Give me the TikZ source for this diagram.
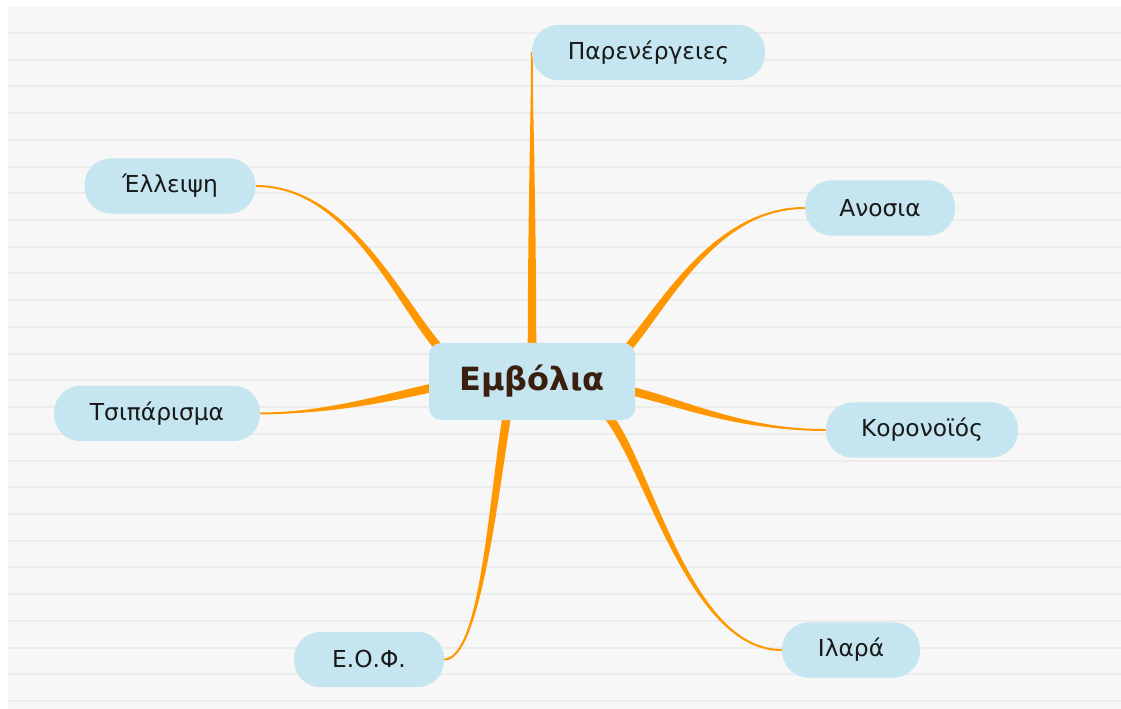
\documentclass[tikz,border=0pt]{standalone}
\usepackage{fontspec}
\setmainfont{DejaVu Sans}
\usetikzlibrary{calc}
\definecolor{paper}{RGB}{247,247,247}
\definecolor{rulecol}{RGB}{236,236,236}
\definecolor{nodefill}{RGB}{197,229,240}
\definecolor{branch}{RGB}{255,152,0}
\definecolor{centertext}{RGB}{58,30,14}
\definecolor{leaftext}{RGB}{25,25,25}
\pgfdeclarelayer{paperlayer}
\pgfdeclarelayer{linklayer}
\pgfsetlayers{paperlayer,linklayer,main}
\tikzset{
  leaf/.style={fill=nodefill, rounded corners=20pt, minimum height=41.5pt, inner sep=0pt,
    text=leaftext, font=\fontsize{17.5pt}{20pt}\selectfont},
  hub/.style={fill=nodefill, rounded corners=9pt, minimum width=154.5pt, minimum height=57.75pt,
    inner sep=0pt, text=centertext, font=\fontsize{24pt}{28pt}\selectfont\bfseries},
  branchfill/.style={fill=branch},
  branchline/.style={draw=branch, line width=1.5pt},
  paperline/.style={draw=rulecol, line width=1.5pt},
}
\def\wS{3.2pt}
\def\wC{3.2pt}
\def\wD{1.4pt}
\newcommand\taper[4]{%
  \fill[branchfill] ($(#1)!\wS!90:(#2)$) .. controls ($(#2)!\wC!-90:(#1)$) and ($(#3)!\wD!90:(#4)$) .. (#4)
    .. controls ($(#3)!\wD!-90:(#4)$) and ($(#2)!\wC!90:(#1)$) .. ($(#1)!\wS!-90:(#2)$) -- cycle;
  \draw[branchline] (#1) .. controls (#2) and (#3) .. (#4);}
\begin{document}
\begin{tikzpicture}[x=0.75pt,y=-0.75pt]
\useasboundingbox (0,0) rectangle (1121,709);
\begin{pgfonlayer}{paperlayer}
  \fill[white] (0,0) rectangle (1121,709);
  \fill[paper] (8,7) rectangle (1121,709);
  \foreach \k in {0,...,25}
    \draw[paperline] (8,{33+\k*26.72}) -- (1121,{33+\k*26.72});
\end{pgfonlayer}

\node[hub] (cen) at (532,381.5) {Εμβόλια};
\node[leaf, minimum width=174.75pt] (par) at (648.5,52.5) {Παρενέργειες};
\node[leaf, minimum width=112.5pt] (ano) at (880,208) {Ανοσια};
\node[leaf, minimum width=144pt] (kor) at (922,430) {Κορονοϊός};
\node[leaf, minimum width=103.5pt] (ila) at (851,650) {Ιλαρά};
\node[leaf, minimum width=112.5pt] (eof) at (369,659.5) {Ε.Ο.Φ.};
\node[leaf, minimum width=154.5pt] (tsi) at (157,413.5) {Τσιπάρισμα};
\node[leaf, minimum width=128.25pt] (ell) at (170,186) {Έλλειψη};

\coordinate (s-ell) at ($(cen.center)+(-91,-31.5)$);
\coordinate (s-ano) at ($(cen.center)+(94,-31.5)$);
\coordinate (s-kor) at ($(cen.center)+(95,8.5)$);
\coordinate (s-tsi) at ($(cen.center)+(-96,5.5)$);
\coordinate (s-eof) at ($(cen.center)+(-25,33.5)$);
\coordinate (s-ila) at ($(cen.center)+(76,34.5)$);
\coordinate (s-par) at ($(cen.center)+(0,-32.5)$);

\begin{pgfonlayer}{linklayer}
  \taper{s-ell}{400,305}{350,186}{ell.east}
  \taper{s-ano}{665,305}{715,208}{ano.west}
  \taper{s-kor}{680,402}{740,430}{kor.west}
  \taper{s-tsi}{390,397}{330,413}{tsi.east}
  \taper{s-eof}{493,500}{480,659.5}{eof.east}
  \taper{s-ila}{650,470}{690,650}{ila.west}
  \taper{s-par}{532,250}{532,120}{par.west}
\end{pgfonlayer}
\end{tikzpicture}
\end{document}
